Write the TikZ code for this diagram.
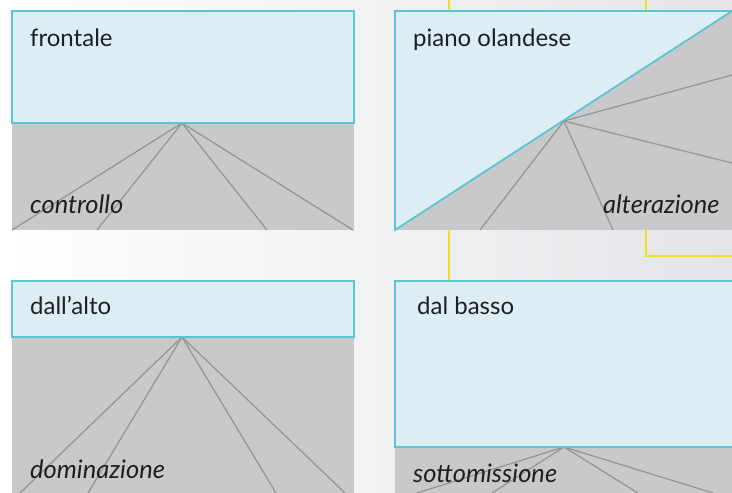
\documentclass[tikz,border=0pt]{standalone}
\usepackage{fontspec}
\setmainfont{Lato}
\definecolor{bluefill}{HTML}{DCEEF4}
\definecolor{blueline}{HTML}{5EC3D3}
\definecolor{grayfill}{HTML}{C8C9CB}
\definecolor{rayline}{HTML}{949494}
\definecolor{yel}{HTML}{EDE023}
\definecolor{bgr}{HTML}{E3E5E8}
\begin{document}
\begin{tikzpicture}[x=1pt,y=-1pt,
  sky/.style={fill=bluefill,draw=blueline,line width=1.8pt},
  ground/.style={fill=grayfill,draw=none},
  ray/.style={draw=rayline,line width=1.2pt},
  yline/.style={draw=yel,line width=2.4pt},
  title/.style={anchor=base west,inner sep=0pt,font=\fontsize{24}{28}\selectfont,text=black!88},
  tag/.style={anchor=base west,inner sep=0pt,font=\fontsize{25.5}{30}\selectfont\itshape,text=black!88}]
\useasboundingbox (0,0) rectangle (732,493);
\shade[left color=white,right color=bgr] (0,0) rectangle (732,493);
% yellow connectors
\coordinate (ya1) at (449,0); \coordinate (ya2) at (449,12);
\coordinate (yb1) at (646,0); \coordinate (yb2) at (646,12);
\coordinate (yc1) at (449,229); \coordinate (yc2) at (449,282);
\coordinate (yd1) at (646,229); \coordinate (yd2) at (646,256); \coordinate (yd3) at (732,256);
\draw[yline] (ya1) -- (ya2);
\draw[yline] (yb1) -- (yb2);
\draw[yline] (yc1) -- (yc2);
\draw[yline] (yd1) -- (yd2) -- (yd3);
% panel 1 frontale
\fill[ground] (12,123) rectangle (354,230);
\coordinate (a1) at (182,123);
\foreach \x in {12,97,267,353} \draw[ray] (a1) -- (\x,230);
\draw[sky] (12,11) rectangle (354,123);
\node[title] (t1) at (30,46) {frontale};
\node[tag] (g1) at (30,213) {controllo};
% panel 2 piano olandese
\fill[ground] (395,11) rectangle (732,230);
\coordinate (a2) at (564,121);
\draw[ray] (a2) -- (480,230);
\draw[ray] (a2) -- (613,230);
\draw[ray] (a2) -- (732,163);
\draw[ray] (a2) -- (732,75);
\draw[sky] (732,11) -- (395,11) -- (395,230) -- cycle;
\node[title] (t2) at (413,46) {piano olandese};
\node[tag] (g2) at (603,213) {alterazione};
% panel 3 dall'alto
\fill[ground] (12,337) rectangle (354,493);
\coordinate (a3) at (182,337);
\foreach \x in {20,88,276,345} \draw[ray] (a3) -- (\x,493);
\draw[sky] (12,281) rectangle (354,337);
\node[title] (t3) at (30,314) {dall’alto};
\node[tag] (g3) at (30,478) {dominazione};
% panel 4 dal basso
\fill[ground] (395,447) rectangle (732,493);
\coordinate (a4) at (564,447);
\foreach \x in {417,492,638,713} \draw[ray] (a4) -- (\x,493);
\draw[sky] (732,281) -- (395,281) -- (395,447) -- (732,447);
\node[title] (t4) at (417,314) {dal basso};
\node[tag] (g4) at (413,482) {sottomissione};
\end{tikzpicture}
\end{document}
